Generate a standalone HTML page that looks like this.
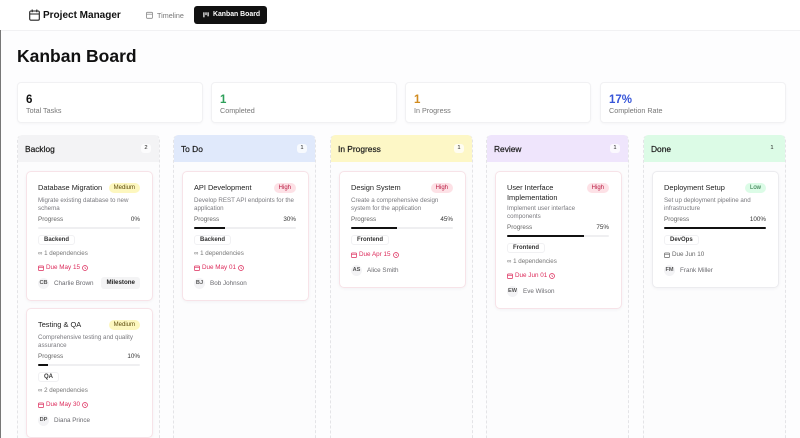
<!DOCTYPE html>
<html><head><meta charset="utf-8"><style>
*{box-sizing:border-box;margin:0;padding:0}
html{width:800px;height:438px;overflow:hidden}
body{width:800px;height:438px;overflow:hidden;background:#fdfdfe;font-family:"Liberation Sans",sans-serif;color:#111;position:relative}
.leftline{position:absolute;left:0;top:30px;width:1px;height:408px;background:#777}
.hdr{position:absolute;left:0;top:0;width:800px;height:31px;border-bottom:1px solid #f1f1f3;background:#fff}
.brand{position:absolute;left:43px;top:10px;font-size:10px;font-weight:bold;line-height:12px;color:#111}
.tl{position:absolute;left:157px;top:11px;font-size:7.2px;line-height:9px;color:#777}
.kb{position:absolute;left:194px;top:6px;width:73px;height:18px;background:#111;border-radius:3px;color:#fff;font-size:6.9px;font-weight:bold;line-height:18px;padding-left:19px}
h1{position:absolute;left:17px;top:45px;font-size:17.5px;line-height:22px;font-weight:bold;color:#111}
.stat{position:absolute;top:82px;height:41px;width:186px;background:#fff;border:1px solid #f1f1f3;border-radius:4px;box-shadow:0 1px 2px rgba(0,0,0,0.03);padding-left:8px}
.stat .n{position:absolute;left:8px;top:10px;font-size:11.5px;line-height:14px;font-weight:bold}
.stat .l{position:absolute;left:8px;top:23px;font-size:7.2px;line-height:9px;color:#777}
.col{position:absolute;top:135px;width:143px;height:303px;border:1px dashed #e4e4e7;border-top:none;border-bottom:none;border-radius:5px 5px 0 0;background:#fcfcfd;overflow:hidden}
.ch{height:27px;border-radius:5px 5px 0 0;position:relative;margin:0 -1px}
.ch .t{position:absolute;left:8px;top:9px;font-size:8.4px;line-height:10px;color:#1a1a1a;-webkit-text-stroke:0.2px #1a1a1a}
.ch .c{position:absolute;right:9px;top:9px;min-width:10px;height:9px;border-radius:3px;background:rgba(255,255,255,0.75);font-size:5.8px;line-height:9px;text-align:center;color:#222;padding:0 2px}
.cards{padding:9px 8px 0 8px}
.card{width:127px;background:#fff;border:1px solid #f7e3e8;border-radius:5px;box-shadow:0 1px 3px rgba(0,0,0,0.04);padding:10px 12px 11px 11px;margin-bottom:7px}
.card.g{border-color:#ececef}
.trow{display:flex;justify-content:space-between;align-items:flex-start;min-height:12px}
.ttl{font-size:7.4px;line-height:9.5px;padding-top:1px;color:#222;white-space:nowrap}
.badge{font-size:6px;line-height:10px;height:10px;padding:0 5px;border-radius:5px;margin-top:1px;white-space:nowrap}
.med{background:#fdf7bf;color:#5b4a0a}
.high{background:#fde1e6;color:#b8173f}
.low{background:#dcfce7;color:#1f6b3a}
.desc{margin-top:3px;font-size:6.2px;line-height:8px;color:#7a7a7f;white-space:nowrap}
.prow{margin-top:3px;display:flex;justify-content:space-between;font-size:6.3px;line-height:8px;color:#666}
.prow b{font-weight:normal;color:#333}
.bar{margin-top:3px;height:2px;background:#efeff1;border-radius:1px;overflow:hidden}
.bar i{display:block;height:2px;background:#111}
.tagw{margin-top:6px;height:10px;display:flex}
.tag{height:10px;line-height:9px;font-size:6px;font-weight:bold;color:#333;padding:0 5px;border:1px solid #f1f1f3;border-radius:3px;background:#fff}
.deps{margin-top:5px;font-size:6.2px;line-height:8px;color:#777}
.due{margin-top:6px;font-size:6.3px;line-height:8px;color:#dc2a5a;display:flex;align-items:center;gap:2px}
.due.gr{color:#666}
.who{margin-top:5px;height:12px;display:flex;align-items:center}
.av{width:11px;height:11px;border-radius:6px;background:#f3f3f5;font-size:5.6px;line-height:11px;text-align:center;font-weight:bold;color:#555}
.nm{margin-left:5px;font-size:6.3px;color:#6a6a6f}
.ms{margin-left:auto;height:12px;line-height:12px;padding:0 5px;background:#f4f4f5;border-radius:3px;font-size:6.2px;font-weight:bold;color:#222}
</style></head><body>
<div class="hdr">
  <svg style="position:absolute;left:29px;top:9px" width="11" height="12" viewBox="0 0 11 12"><rect x="0.7" y="2" width="9.6" height="9.2" rx="1.2" fill="none" stroke="#222" stroke-width="1.1"/><line x1="0.7" y1="5" x2="10.3" y2="5" stroke="#222" stroke-width="1"/><line x1="3.2" y1="0.5" x2="3.2" y2="3.2" stroke="#222" stroke-width="1.1"/><line x1="7.8" y1="0.5" x2="7.8" y2="3.2" stroke="#222" stroke-width="1.1"/></svg>
  <div class="brand">Project Manager</div>
  <svg style="position:absolute;left:146px;top:11px" width="7" height="8" viewBox="0 0 7 8"><rect x="0.5" y="1.3" width="6" height="6" rx="0.8" fill="none" stroke="#888" stroke-width="0.8"/><line x1="0.5" y1="3.2" x2="6.5" y2="3.2" stroke="#888" stroke-width="0.7"/></svg>
  <div class="tl">Timeline</div>
  <div class="kb"><svg style="position:absolute;left:9px;top:6px" width="6" height="6" viewBox="0 0 6 6"><rect x="0.3" y="0.3" width="1.2" height="5" fill="#fff"/><rect x="2.4" y="0.3" width="1.2" height="2.8" fill="#fff"/><rect x="4.5" y="0.3" width="1.2" height="4" fill="#fff"/></svg>Kanban Board</div>
</div>
<div class="leftline"></div>
<h1>Kanban Board</h1>

<div class="stat" style="left:17px"><div class="n" style="color:#111">6</div><div class="l">Total Tasks</div></div>
<div class="stat" style="left:211px"><div class="n" style="color:#2ea05a">1</div><div class="l">Completed</div></div>
<div class="stat" style="left:405px"><div class="n" style="color:#d18b1f">1</div><div class="l">In Progress</div></div>
<div class="stat" style="left:600px"><div class="n" style="color:#3554d8">17%</div><div class="l">Completion Rate</div></div>

<!-- Backlog -->
<div class="col" style="left:17px">
  <div class="ch" style="background:#f3f3f5"><div class="t">Backlog</div><div class="c">2</div></div>
  <div class="cards">
    <div class="card">
      <div class="trow"><div class="ttl">Database Migration</div><div class="badge med">Medium</div></div>
      <div class="desc">Migrate existing database to new<br>schema</div>
      <div class="prow"><span>Progress</span><b>0%</b></div>
      <div class="bar"><i style="width:0%"></i></div>
      <div class="tagw"><div class="tag">Backend</div></div>
      <div class="deps">∞ 1 dependencies</div>
      <div class="due"><svg width="6" height="6" viewBox="0 0 6 6"><rect x="0.5" y="1" width="5" height="4.5" rx="0.6" fill="none" stroke="#dc2a5a" stroke-width="0.7"/><line x1="0.5" y1="2.4" x2="5.5" y2="2.4" stroke="#dc2a5a" stroke-width="0.6"/></svg>Due May 15 <svg width="6" height="6" viewBox="0 0 6 6"><circle cx="3" cy="3" r="2.5" fill="none" stroke="#dc2a5a" stroke-width="0.7"/><path d="M3 1.6V3.2L4 3.8" fill="none" stroke="#dc2a5a" stroke-width="0.6"/></svg></div>
      <div class="who"><div class="av">CB</div><div class="nm">Charlie Brown</div><div class="ms">Milestone</div></div>
    </div>
    <div class="card">
      <div class="trow"><div class="ttl">Testing &amp; QA</div><div class="badge med">Medium</div></div>
      <div class="desc">Comprehensive testing and quality<br>assurance</div>
      <div class="prow"><span>Progress</span><b>10%</b></div>
      <div class="bar"><i style="width:10%"></i></div>
      <div class="tagw"><div class="tag">QA</div></div>
      <div class="deps">∞ 2 dependencies</div>
      <div class="due"><svg width="6" height="6" viewBox="0 0 6 6"><rect x="0.5" y="1" width="5" height="4.5" rx="0.6" fill="none" stroke="#dc2a5a" stroke-width="0.7"/><line x1="0.5" y1="2.4" x2="5.5" y2="2.4" stroke="#dc2a5a" stroke-width="0.6"/></svg>Due May 30 <svg width="6" height="6" viewBox="0 0 6 6"><circle cx="3" cy="3" r="2.5" fill="none" stroke="#dc2a5a" stroke-width="0.7"/><path d="M3 1.6V3.2L4 3.8" fill="none" stroke="#dc2a5a" stroke-width="0.6"/></svg></div>
      <div class="who"><div class="av">DP</div><div class="nm">Diana Prince</div></div>
    </div>
  </div>
</div>

<!-- To Do -->
<div class="col" style="left:173px">
  <div class="ch" style="background:#e0e9fb"><div class="t">To Do</div><div class="c">1</div></div>
  <div class="cards">
    <div class="card">
      <div class="trow"><div class="ttl">API Development</div><div class="badge high">High</div></div>
      <div class="desc">Develop REST API endpoints for the<br>application</div>
      <div class="prow"><span>Progress</span><b>30%</b></div>
      <div class="bar"><i style="width:30%"></i></div>
      <div class="tagw"><div class="tag">Backend</div></div>
      <div class="deps">∞ 1 dependencies</div>
      <div class="due"><svg width="6" height="6" viewBox="0 0 6 6"><rect x="0.5" y="1" width="5" height="4.5" rx="0.6" fill="none" stroke="#dc2a5a" stroke-width="0.7"/><line x1="0.5" y1="2.4" x2="5.5" y2="2.4" stroke="#dc2a5a" stroke-width="0.6"/></svg>Due May 01 <svg width="6" height="6" viewBox="0 0 6 6"><circle cx="3" cy="3" r="2.5" fill="none" stroke="#dc2a5a" stroke-width="0.7"/><path d="M3 1.6V3.2L4 3.8" fill="none" stroke="#dc2a5a" stroke-width="0.6"/></svg></div>
      <div class="who"><div class="av">BJ</div><div class="nm">Bob Johnson</div></div>
    </div>
  </div>
</div>

<!-- In Progress -->
<div class="col" style="left:330px">
  <div class="ch" style="background:#fdf7c6"><div class="t">In Progress</div><div class="c">1</div></div>
  <div class="cards">
    <div class="card">
      <div class="trow"><div class="ttl">Design System</div><div class="badge high">High</div></div>
      <div class="desc">Create a comprehensive design<br>system for the application</div>
      <div class="prow"><span>Progress</span><b>45%</b></div>
      <div class="bar"><i style="width:45%"></i></div>
      <div class="tagw"><div class="tag">Frontend</div></div>
      <div class="due"><svg width="6" height="6" viewBox="0 0 6 6"><rect x="0.5" y="1" width="5" height="4.5" rx="0.6" fill="none" stroke="#dc2a5a" stroke-width="0.7"/><line x1="0.5" y1="2.4" x2="5.5" y2="2.4" stroke="#dc2a5a" stroke-width="0.6"/></svg>Due Apr 15 <svg width="6" height="6" viewBox="0 0 6 6"><circle cx="3" cy="3" r="2.5" fill="none" stroke="#dc2a5a" stroke-width="0.7"/><path d="M3 1.6V3.2L4 3.8" fill="none" stroke="#dc2a5a" stroke-width="0.6"/></svg></div>
      <div class="who"><div class="av">AS</div><div class="nm">Alice Smith</div></div>
    </div>
  </div>
</div>

<!-- Review -->
<div class="col" style="left:486px">
  <div class="ch" style="background:#efe5fc"><div class="t">Review</div><div class="c">1</div></div>
  <div class="cards">
    <div class="card">
      <div class="trow"><div class="ttl">User Interface<br>Implementation</div><div class="badge high">High</div></div>
      <div class="desc">Implement user interface<br>components</div>
      <div class="prow"><span>Progress</span><b>75%</b></div>
      <div class="bar"><i style="width:75%"></i></div>
      <div class="tagw"><div class="tag">Frontend</div></div>
      <div class="deps">∞ 1 dependencies</div>
      <div class="due"><svg width="6" height="6" viewBox="0 0 6 6"><rect x="0.5" y="1" width="5" height="4.5" rx="0.6" fill="none" stroke="#dc2a5a" stroke-width="0.7"/><line x1="0.5" y1="2.4" x2="5.5" y2="2.4" stroke="#dc2a5a" stroke-width="0.6"/></svg>Due Jun 01 <svg width="6" height="6" viewBox="0 0 6 6"><circle cx="3" cy="3" r="2.5" fill="none" stroke="#dc2a5a" stroke-width="0.7"/><path d="M3 1.6V3.2L4 3.8" fill="none" stroke="#dc2a5a" stroke-width="0.6"/></svg></div>
      <div class="who"><div class="av">EW</div><div class="nm">Eve Wilson</div></div>
    </div>
  </div>
</div>

<!-- Done -->
<div class="col" style="left:643px">
  <div class="ch" style="background:#dcfbe6"><div class="t">Done</div><div class="c" style="background:transparent">1</div></div>
  <div class="cards">
    <div class="card g">
      <div class="trow"><div class="ttl">Deployment Setup</div><div class="badge low">Low</div></div>
      <div class="desc">Set up deployment pipeline and<br>infrastructure</div>
      <div class="prow"><span>Progress</span><b>100%</b></div>
      <div class="bar"><i style="width:100%"></i></div>
      <div class="tagw"><div class="tag">DevOps</div></div>
      <div class="due gr"><svg width="6" height="6" viewBox="0 0 6 6"><rect x="0.5" y="1" width="5" height="4.5" rx="0.6" fill="none" stroke="#666" stroke-width="0.7"/><line x1="0.5" y1="2.4" x2="5.5" y2="2.4" stroke="#666" stroke-width="0.6"/></svg>Due Jun 10</div>
      <div class="who"><div class="av">FM</div><div class="nm">Frank Miller</div></div>
    </div>
  </div>
</div>
</body></html>
